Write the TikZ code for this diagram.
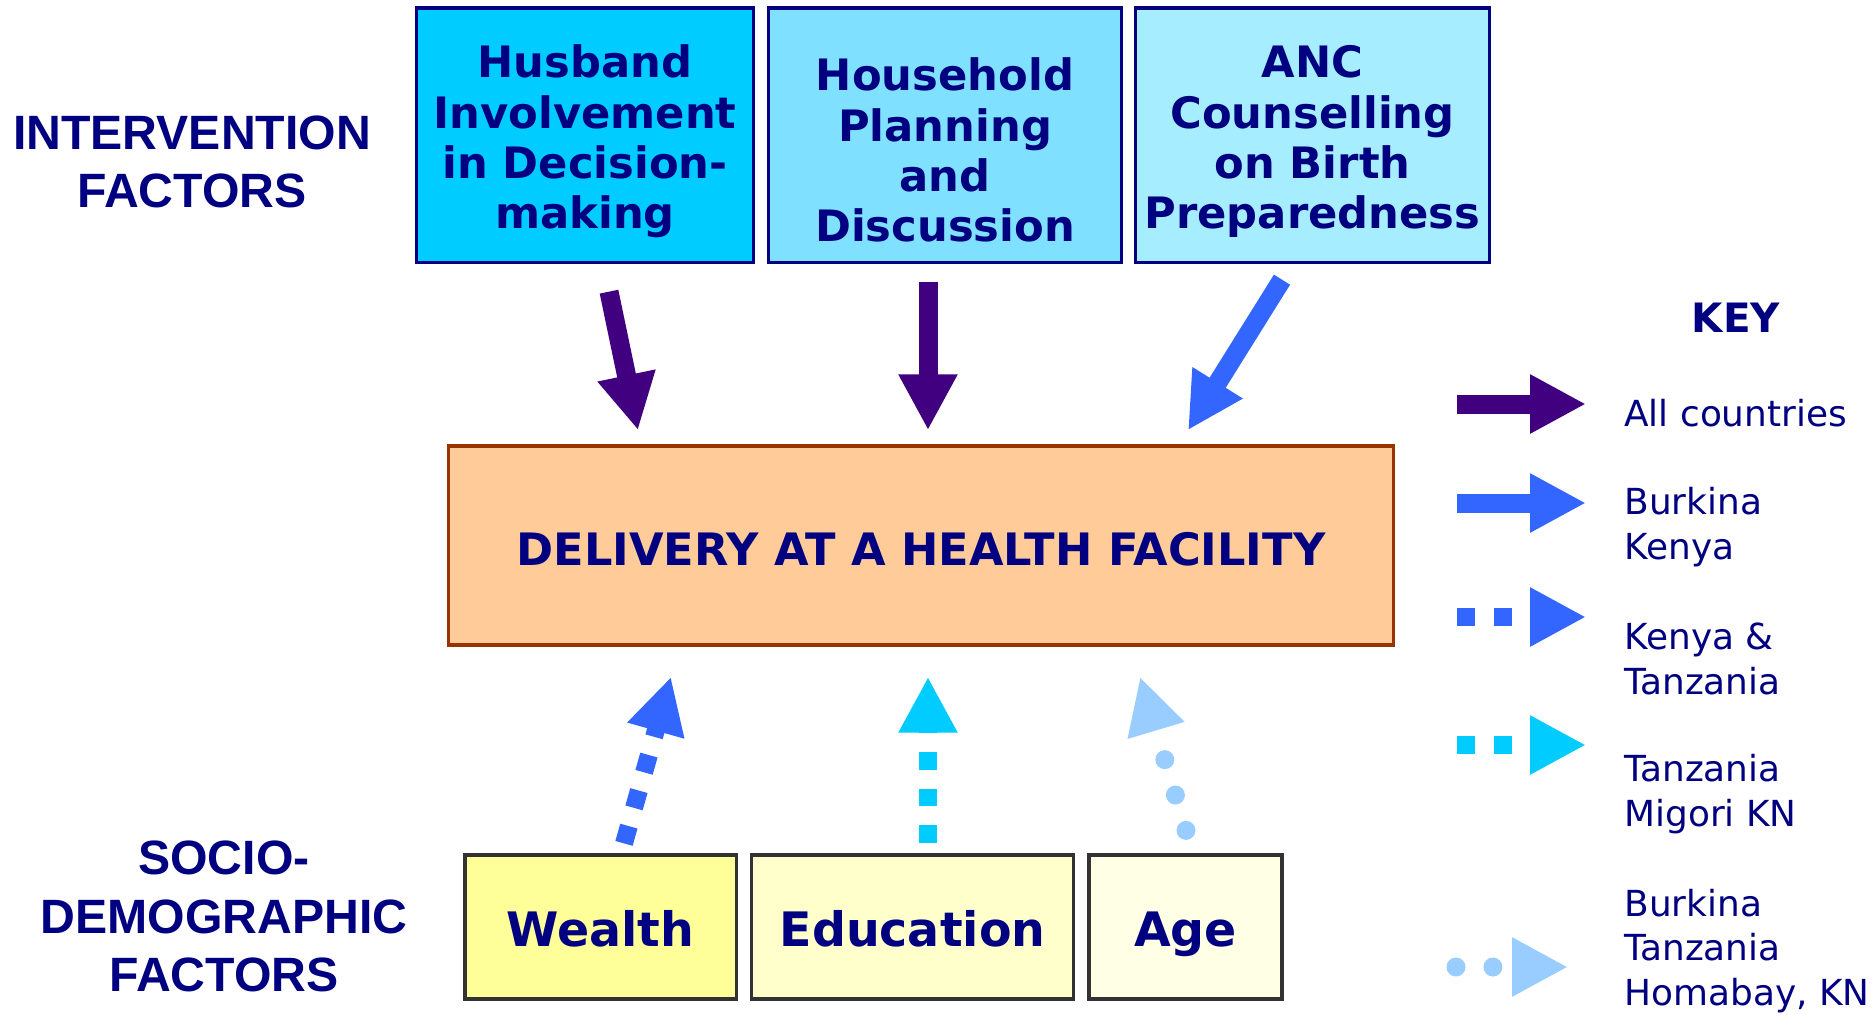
\documentclass[tikz,border=0pt]{standalone}
\usepackage{fontspec}
\setmainfont{DejaVu Sans}
\newfontfamily\headfont{Liberation Sans}
\usepackage{xcolor}
\usepackage{tikz}
\usetikzlibrary{positioning,calc,arrows.meta}

\definecolor{navytext}{HTML}{000080}
\definecolor{allcol}{HTML}{400080}
\definecolor{bluecol}{HTML}{3366FF}
\definecolor{cyancol}{HTML}{00CCFF}
\definecolor{lightcol}{HTML}{99CCFF}
\definecolor{boxA}{HTML}{00CCFF}
\definecolor{boxB}{HTML}{80E0FF}
\definecolor{boxC}{HTML}{A6EDFF}
\definecolor{outcome}{HTML}{FFCC99}
\definecolor{outline}{HTML}{993300}
\definecolor{wealthfill}{HTML}{FFFF99}
\definecolor{edufill}{HTML}{FFFFCC}
\definecolor{agefill}{HTML}{FFFFE6}

\begin{document}
\begin{tikzpicture}[x=0.01cm, y=-0.01cm,
    factor/.style={draw=navytext, line width=0.9pt, inner sep=0pt, align=center, text=navytext,
        minimum height=2.54cm, font=\bfseries\fontsize{12.3}{14.3}\selectfont},
    socio/.style={draw=black!80, line width=0.9pt, inner sep=0pt, minimum height=1.44cm, text=navytext,
        text height=11pt, text depth=0pt, font=\bfseries\fontsize{13.5}{16}\selectfont},
    heading/.style={align=center, text=navytext, font=\headfont\bfseries\fontsize{13.7}{16.6}\selectfont},
    keytext/.style={anchor=west, align=left, text=navytext, font=\fontsize{10.2}{12.7}\selectfont},
    bigarrow/.style={line width=5.4pt, -{Triangle[length=15.9pt, width=15.7pt]}},
    squares/.style={bigarrow, line width=5.1pt, dash pattern=on 5.1pt off 5.4pt},
    dots/.style={bigarrow, line cap=round, dash pattern=on 0pt off 10.5pt}
]
    \useasboundingbox (0,0) rectangle (1872,1014);

    % Intervention factors
    \node[heading] (interv) at (192,162) {INTERVENTION\\FACTORS};
    \node[factor, fill=boxA, minimum width=3.36cm] (husband) at (585,135) {\rule{0pt}{13pt}Husband\\Involvement\\in Decision-\\making};
    \node[factor, fill=boxB, minimum width=3.52cm] (plan) at (945,135) {\rule{0pt}{18pt}Household\\Planning\\and\\Discussion};
    \node[factor, fill=boxC, minimum width=3.53cm] (anc) at (1312.5,135) {\rule{0pt}{13pt}ANC\\Counselling\\on Birth\\Preparedness};

    % Outcome
    \node[draw=outline, line width=1pt, fill=outcome, minimum width=9.44cm, minimum height=1.99cm, text=navytext,
        text height=11.5pt, text depth=0pt, font=\bfseries\fontsize{12.7}{14}\selectfont] (delivery) at (921,545.5) {DELIVERY AT A HEALTH FACILITY};

    % Socio-demographic factors
    \node[heading] (socio) at (224,916.5) {SOCIO-\\DEMOGRAPHIC\\FACTORS};
    \node[socio, fill=wealthfill, minimum width=2.71cm] (wealth) at (600.5,927) {Wealth};
    \node[socio, fill=edufill, minimum width=3.21cm] (edu) at (912.5,927) {Education};
    \node[socio, fill=agefill, minimum width=1.93cm] (age) at (1185.5,927) {Age};

    % Arrows into the outcome
    \draw[bigarrow, allcol] ($(husband.south)+(24,28)$) -- ($(delivery.north west)+(191,-14)$);
    \draw[bigarrow, allcol] ($(plan.south)+(-17,18)$) -- ($(delivery.north)+(7,-14)$);
    \draw[bigarrow, bluecol] ($(anc.south)+(-30.5,16)$) -- ($(delivery.north east)+(-207,-14)$);
    \draw[squares, bluecol] ($(wealth.north)+(23.5,-10)$) -- ($(delivery.south west)+(224,30)$);
    \draw[squares, cyancol] ($(edu.north)+(15.5,-10)$) -- ($(delivery.south)+(7,30)$);
    \draw[dots, lightcol] ($(age.north)+(0.5,-23)$) -- ($(delivery.south east)+(-255,30)$);

    % Key
    \node[text=navytext, font=\bfseries\fontsize{11.5}{14}\selectfont] (key) at (1736,318) {KEY};
    \coordinate (k1a) at (1457,404); \coordinate (k1b) at (1586,404);
    \coordinate (k2a) at (1457,503); \coordinate (k2b) at (1586,503);
    \coordinate (k3a) at (1457,617); \coordinate (k3b) at (1586,617);
    \coordinate (k4a) at (1457,745); \coordinate (k4b) at (1586,745);
    \coordinate (k5a) at (1456,967); \coordinate (k5b) at (1568,967);
    \draw[bigarrow, allcol] (k1a) -- (k1b);
    \draw[bigarrow, bluecol] (k2a) -- (k2b);
    \draw[squares, bluecol] (k3a) -- (k3b);
    \draw[squares, cyancol] (k4a) -- (k4b);
    \draw[dots, lightcol] (k5a) -- (k5b);
    \node[keytext] (k1t) at (1612,413) {All countries};
    \node[keytext] (k2t) at (1612,527) {Burkina\\Kenya};
    \node[keytext] (k3t) at (1612,659) {Kenya \&\\Tanzania};
    \node[keytext] (k4t) at (1612,794) {Tanzania\\Migori KN};
    \node[keytext] (k5t) at (1612,951) {Burkina\\Tanzania\\Homabay, KN};

\end{tikzpicture}
\end{document}
